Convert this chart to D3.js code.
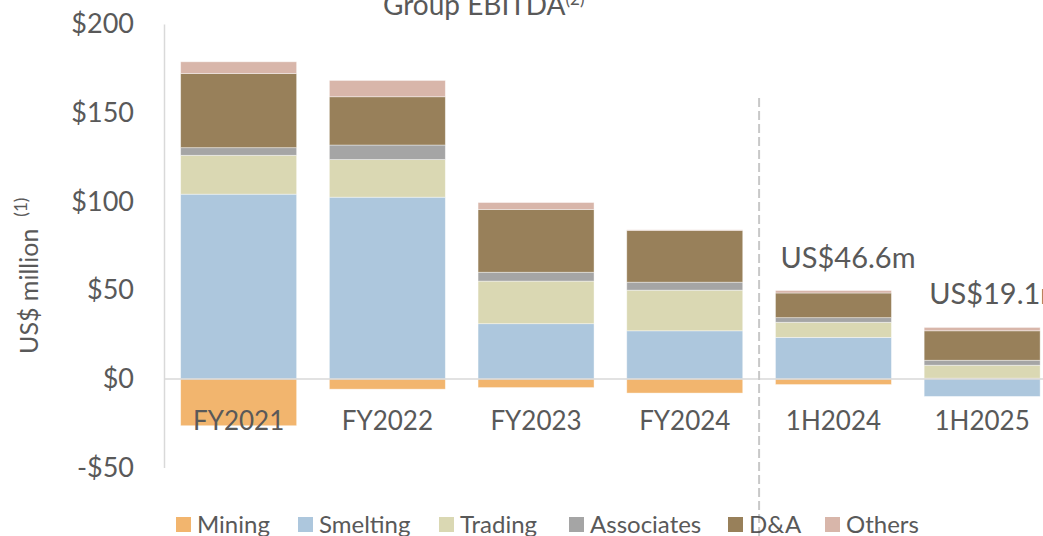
<!DOCTYPE html>
<html lang="en">
<head>
    <meta charset="UTF-8">
    <title>Group EBITDA</title>
    <script src="https://d3js.org/d3.v7.min.js"></script>
</head>
<style>
    body {
        margin: 0;
        background: #fff;
        font-family: Lato, "Open Sans", sans-serif;
        color: #595959;
    }

    text {
        fill: #595959;
    }
</style>
<body>
    <div id="chart"></div>
    <script>
        // data (US$ million)
        const periods = ["FY2021", "FY2022", "FY2023", "FY2024", "1H2024", "1H2025"];
        const segments = ["Mining", "Smelting", "Trading", "Associates", "D&A", "Others"];
        const mining = [-26.4, -5.8, -4.9, -8.0, -3.2, 0.4];
        const smelting = [104.1, 102.4, 31.1, 27.1, 23.4, -9.9];
        const trading = [21.9, 21.2, 24.0, 22.9, 8.5, 7.3];
        const associates = [4.3, 8.2, 5.0, 4.5, 2.6, 2.8];
        const dna = [41.8, 27.2, 35.4, 29.2, 13.9, 16.6];
        const others = [6.6, 9.2, 3.9, 0.3, 1.4, 1.9];
        const yTicks = [-50, 0, 50, 100, 150, 200];
        const callouts = [{ period: "1H2024", text: "US$46.6m" }, { period: "1H2025", text: "US$19.1m" }];

        const colors = ["#f2b56e", "#adc7dd", "#dad8b3", "#a5a5a5", "#98805a", "#d8b6aa"];

        const width = 1043, height = 536;

        const rows = periods.map((p, i) => ({
            period: p,
            "Mining": mining[i],
            "Smelting": smelting[i],
            "Trading": trading[i],
            "Associates": associates[i],
            "D&A": dna[i],
            "Others": others[i]
        }));

        const svg = d3.select("#chart")
            .append("svg")
            .attr("width", width)
            .attr("height", height);

        const x = d3.scaleBand()
            .domain(periods)
            .range([164.3, 1056.5])
            .paddingInner(0.22)
            .paddingOuter(0.11);

        const y = d3.scaleLinear()
            .domain([-50, 200])
            .range([467.6, 24]);

        // title (cut at the top, as in the original slide)
        const title = svg.append("text")
            .attr("x", 383)
            .attr("y", 15)
            .style("font-size", "28px")
            .text("Group EBITDA");
        title.append("tspan")
            .attr("dy", -10)
            .style("font-size", "17px")
            .text("(2)");

        // y axis
        const yAxis = svg.append("g")
            .attr("transform", "translate(164,0)")
            .call(d3.axisLeft(y).tickValues(yTicks).tickSize(0).tickPadding(30)
                .tickFormat(d => (d < 0 ? "-$" : "$") + Math.abs(d)));
        yAxis.select(".domain").attr("stroke", "#d9d9d9").attr("stroke-width", 1.5);
        yAxis.selectAll("text")
            .attr("fill", "#595959")
            .style("font-family", "Lato, sans-serif")
            .style("font-size", "27px");

        // y axis title
        const yTitle = svg.append("text")
            .attr("transform", "translate(38,354) rotate(-90)")
            .style("font-size", "25px")
            .text("US$ million");
        yTitle.append("tspan")
            .attr("dx", 12)
            .attr("dy", -11)
            .style("font-size", "17px")
            .text("(1)");

        // stacked bars
        const stack = d3.stack()
            .keys(segments)
            .offset(d3.stackOffsetDiverging);
        const series = stack(rows);

        svg.append("g")
            .selectAll("g")
            .data(series)
            .join("g")
            .attr("fill", (d, i) => colors[i])
            .selectAll("rect")
            .data(d => d)
            .join("rect")
            .attr("x", d => x(d.data.period))
            .attr("width", x.bandwidth())
            .attr("y", d => y(d[1]))
            .attr("height", d => Math.abs(y(d[0]) - y(d[1])))
            .attr("stroke", "#ffffff")
            .attr("stroke-opacity", 0.5)
            .attr("stroke-width", 0.8);

        // zero line
        svg.append("line")
            .attr("x1", 164)
            .attr("x2", width)
            .attr("y1", y(0))
            .attr("y2", y(0))
            .attr("stroke", "#d9d9d9")
            .attr("stroke-width", 1.5);

        // category labels
        svg.append("g")
            .selectAll("text")
            .data(periods)
            .join("text")
            .attr("x", d => x(d) + x.bandwidth() / 2)
            .attr("y", 430)
            .attr("text-anchor", "middle")
            .style("font-size", "26px")
            .text(d => d);

        // separator between full years and half years
        const sepX = (x("FY2024") + x.bandwidth() + x("1H2024")) / 2;
        svg.append("line")
            .attr("x1", sepX)
            .attr("x2", sepX)
            .attr("y1", 98)
            .attr("y2", height)
            .attr("stroke", "#c8c8c8")
            .attr("stroke-width", 2)
            .attr("stroke-dasharray", "9,4");

        // totals callouts
        const totals = rows.map(r => segments.reduce((s, k) => s + Math.max(0, r[k]), 0));
        svg.append("g")
            .selectAll("text")
            .data(callouts)
            .join("text")
            .attr("x", d => x(d.period) + 5)
            .attr("y", d => y(totals[periods.indexOf(d.period)]) - 23)
            .style("font-size", "29px")
            .text(d => d.text);

        // legend
        const legendX = [176, 298, 439, 569, 728, 825];
        const legend = svg.append("g")
            .selectAll("g")
            .data(segments)
            .join("g")
            .attr("transform", (d, i) => "translate(" + legendX[i] + ",517)");
        legend.append("rect")
            .attr("width", 15)
            .attr("height", 15)
            .attr("fill", (d, i) => colors[i]);
        legend.append("text")
            .attr("x", 21)
            .attr("y", 16)
            .style("font-size", "24px")
            .text(d => d);
    </script>
</body>
</html>
